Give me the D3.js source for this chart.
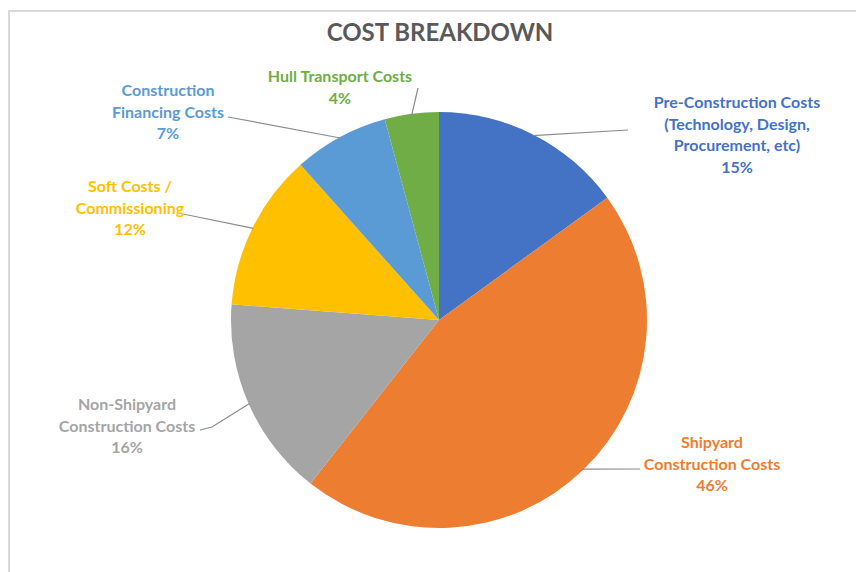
<!DOCTYPE html>
<html><head><meta charset="utf-8">
<script src="https://cdn.jsdelivr.net/npm/d3@7"></script>
<style>body{margin:0;background:#fff}svg{display:block}</style>
</head><body>
<svg id="chart" width="856" height="572"></svg>
<script>
// ---- data ----
const categories = [
  ["Pre-Construction Costs", "(Technology, Design,", "Procurement, etc)"],
  ["Shipyard", "Construction Costs"],
  ["Non-Shipyard", "Construction Costs"],
  ["Soft Costs /", "Commissioning"],
  ["Construction", "Financing Costs"],
  ["Hull Transport Costs"]
];
const values = [15, 45.6, 15.6, 12.2, 7.4, 4.2];
const colors = ["#4472C4", "#ED7D31", "#A5A5A5", "#FFC000", "#5B9BD5", "#70AD47"];
const title = "COST BREAKDOWN";

// ---- layout (positions/styles) ----
const W = 856, H = 572;
const cx = 439, cy = 320, R = 208;
const labelLayout = [
  {x: 737, y: 108, end: [[628, 130]]},
  {x: 712, y: 448, end: [[640, 469]]},
  {x: 127, y: 410, end: [[212, 427], [200, 430]]},
  {x: 130, y: 192, end: [[183, 214]]},
  {x: 168, y: 96,  end: [[228, 117]]},
  {x: 340, y: 82,  end: [[418, 88]]}
];
const lineH = 21.5;

const svg = d3.select("#chart");
svg.append("rect").attr("x", 9).attr("y", 11).attr("width", W + 20).attr("height", H + 20)
  .attr("fill", "#fff").attr("stroke", "#d9d9d9").attr("stroke-width", 2);

svg.append("text").attr("x", 440).attr("y", 41).attr("text-anchor", "middle")
  .attr("font-family", "Lato, 'Open Sans', sans-serif").attr("font-weight", 700)
  .attr("font-size", 24).attr("fill", "#595959").text(title);

const total = d3.sum(values);
const pie = d3.pie().sort(null).value(d => d)(values);
const arc = d3.arc().innerRadius(0).outerRadius(R);

const g = svg.append("g").attr("transform", `translate(${cx},${cy})`);
g.selectAll("path").data(pie).join("path")
  .attr("d", arc).attr("fill", (d, i) => colors[i]);

// leader lines
pie.forEach((d, i) => {
  const a = (d.startAngle + d.endAngle) / 2;
  const p0 = [cx + (R - 1) * Math.sin(a), cy - (R - 1) * Math.cos(a)];
  const pts = [p0].concat(labelLayout[i].end);
  svg.append("path").attr("d", d3.line()(pts))
    .attr("fill", "none").attr("stroke", "#8c8c8c").attr("stroke-width", 1.2);
});

// labels
pie.forEach((d, i) => {
  const L = labelLayout[i];
  const lines = categories[i].concat([Math.round(values[i] / total * 100) + "%"]);
  const t = svg.append("text").attr("text-anchor", "middle")
    .attr("font-family", "Lato, 'Open Sans', sans-serif").attr("font-weight", 700)
    .attr("font-size", 16).attr("fill", colors[i]);
  lines.forEach((s, k) => {
    t.append("tspan").attr("x", L.x).attr("y", L.y + k * lineH).text(s);
  });
});
</script>
</body></html>
